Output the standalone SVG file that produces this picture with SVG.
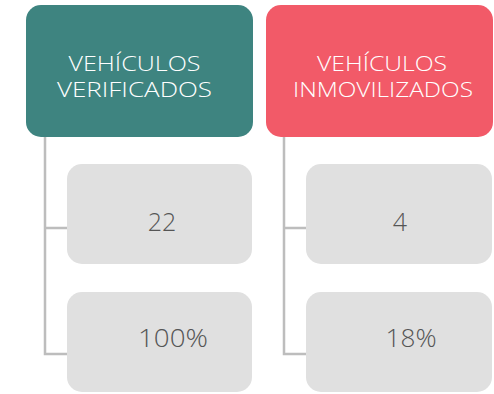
<svg xmlns="http://www.w3.org/2000/svg" width="494" height="394" viewBox="0 0 494 394">
<style>
.hdr{font-family:"Open Sans","Liberation Sans",sans-serif;font-weight:300;font-size:20px;fill:#ffffff;text-anchor:middle}
.val{font-family:"Open Sans","Liberation Sans",sans-serif;font-weight:300;font-size:25px;fill:#555555;text-anchor:middle}
.box{fill:#e0e0e0}
.conn{fill:none;stroke:#bdbdbd;stroke-width:2.5}
</style>
<rect width="494" height="394" fill="#ffffff"/>
<g id="connectors">
<path class="conn" d="M45 137 V354 H67 M45 228 H67"/>
<path class="conn" d="M284 137 V354 H306 M284 228 H306"/>
</g>
<g id="hdr-verificados">
<rect x="26" y="5" width="227" height="132" rx="15" fill="#3e8480"/>
<text class="hdr" x="134.5" y="71" textLength="132" lengthAdjust="spacingAndGlyphs">VEHÍCULOS</text>
<text class="hdr" x="134.5" y="97" textLength="155" lengthAdjust="spacingAndGlyphs">VERIFICADOS</text>
</g>
<g id="hdr-inmovilizados">
<rect x="266" y="5" width="227" height="132" rx="15" fill="#f25a68"/>
<text class="hdr" x="382" y="71" textLength="130" lengthAdjust="spacingAndGlyphs">VEHÍCULOS</text>
<text class="hdr" x="383" y="97" textLength="180" lengthAdjust="spacingAndGlyphs">INMOVILIZADOS</text>
</g>
<g id="v-22">
<rect class="box" x="67" y="164" width="185" height="100" rx="15"/>
<text class="val" x="162" y="231">22</text>
</g>
<g id="v-100">
<rect class="box" x="67" y="292" width="185" height="100" rx="15"/>
<text class="val" x="173" y="347" textLength="70" lengthAdjust="spacingAndGlyphs">100%</text>
</g>
<g id="v-4">
<rect class="box" x="306" y="164" width="186" height="100" rx="15"/>
<text class="val" x="400" y="231">4</text>
</g>
<g id="v-18">
<rect class="box" x="306" y="292" width="186" height="100" rx="15"/>
<text class="val" x="411" y="347" textLength="51" lengthAdjust="spacingAndGlyphs">18%</text>
</g>
</svg>
